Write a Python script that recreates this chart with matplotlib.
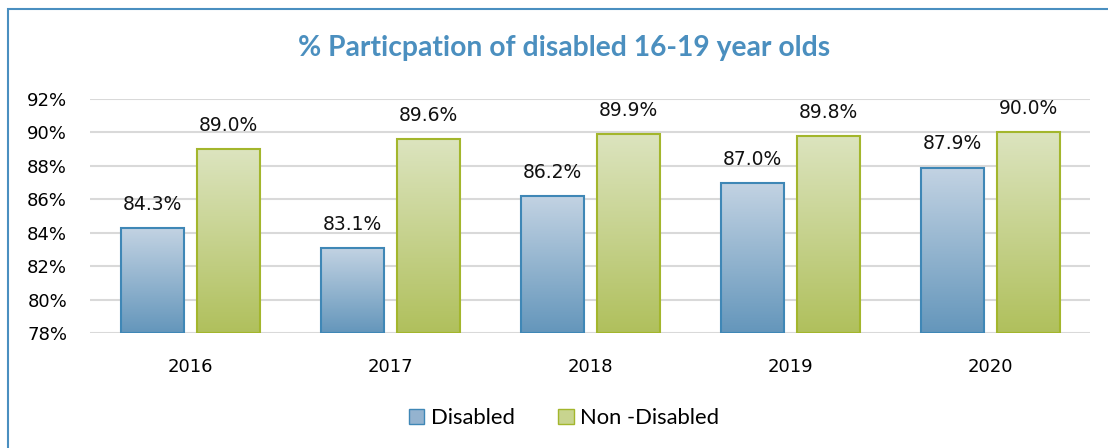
import numpy as np
import matplotlib.pyplot as plt
from matplotlib.patches import Rectangle, Patch
from matplotlib.colors import LinearSegmentedColormap

plt.rcParams["font.family"] = "DejaVu Sans"

years = ["2016", "2017", "2018", "2019", "2020"]
disabled = [84.3, 83.1, 86.2, 87.0, 87.9]
non_disabled = [89.0, 89.6, 89.9, 89.8, 90.0]
yticks = [78, 80, 82, 84, 86, 88, 90, 92]

W, H = 1108, 448
fig = plt.figure(figsize=(W / 100, H / 100), dpi=100)
ax = fig.add_axes([90 / W, 115 / H, 1000 / W, 234 / H])

blue_cm = LinearSegmentedColormap.from_list("b", ["#6496bb", "#c3d3e3"])
green_cm = LinearSegmentedColormap.from_list("g", ["#b0c05c", "#dce4bf"])
grad = np.linspace(0, 1, 256).reshape(-1, 1)

x = np.arange(len(years))
width = 0.315
offset = 0.19
base = 78

def gradient_bars(xs, vals, cmap, edge):
    for xi, v in zip(xs, vals):
        ax.imshow(grad, cmap=cmap, origin="lower", aspect="auto",
                  extent=(xi - width / 2, xi + width / 2, base, v), zorder=2)
        ax.add_patch(Rectangle((xi - width / 2, base), width, v - base,
                               fill=False, edgecolor=edge, lw=1.5, zorder=3))
        ax.annotate(f"{v:.1f}%", (xi, v), xytext=(0, 13), textcoords="offset points",
                    ha="center", va="baseline", fontsize=13.5, color="#111111",
                    family="DejaVu Sans")

gradient_bars(x - offset, disabled, blue_cm, "#3f87b6")
gradient_bars(x + offset, non_disabled, green_cm, "#a3b62c")

ax.set_xlim(-0.5, 4.5)
ax.set_ylim(base, 92)
ax.set_yticks(yticks)
ax.set_yticklabels([f"{t}%" for t in yticks], fontsize=13, family="DejaVu Sans")
ax.set_xticks(x)
ax.set_xticklabels(years, fontsize=13, family="DejaVu Sans")
ax.tick_params(length=0)
ax.tick_params(axis="y", pad=16.5)
ax.tick_params(axis="x", pad=18)
for t in yticks:
    ax.axhline(t, color="#d9d9d9", lw=1.5, zorder=1)
for s in ax.spines.values():
    s.set_visible(False)

fig.text(564 / W, 1 - 48 / H, "% Particpation of disabled 16-19 year olds",
         ha="center", va="center", fontsize=20.3, fontweight="bold",
         color="#4b8fbf", family="Lato")

handles = [Patch(facecolor="#94b3cf", edgecolor="#3f87b6", label="Disabled"),
           Patch(facecolor="#c8d48f", edgecolor="#a3b62c", label="Non -Disabled")]
fig.legend(handles=handles, loc="center", bbox_to_anchor=(564 / W, 1 - 418 / H),
           ncol=2, frameon=False, handlelength=0.7, handleheight=0.7,
           columnspacing=2.0, handletextpad=0.3, prop={"family": "Lato", "size": 15.8})

# outer frame
fig.patches.append(Rectangle((8 / W, -0.1), 1.2, 1 - 9 / H + 0.1, fill=False,
                             edgecolor="#4a8fc0", lw=1.5, transform=fig.transFigure))

fig.savefig("out.png", dpi=100)
